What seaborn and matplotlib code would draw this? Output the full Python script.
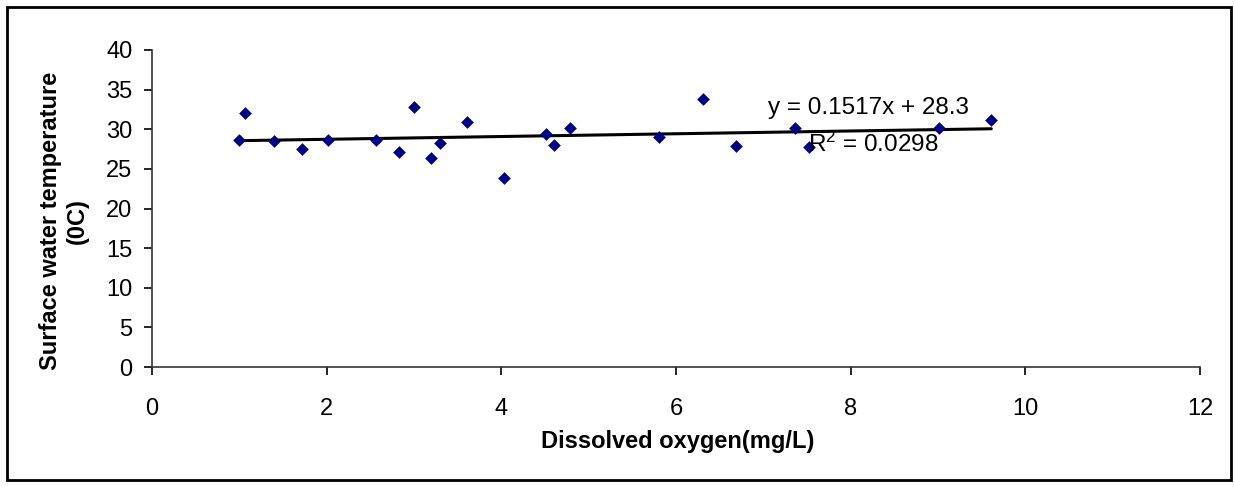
import numpy as np
import pandas as pd
import matplotlib
matplotlib.use('Agg')
import matplotlib.pyplot as plt
from matplotlib.patches import Rectangle
import seaborn as sns

# values
dissolved_oxygen = [1.00, 1.06, 1.40, 1.72, 2.01, 2.57, 2.83, 3.00, 3.19, 3.30, 3.61,
                    4.03, 4.51, 4.60, 4.79, 5.81, 6.31, 6.69, 7.36, 7.52, 9.01, 9.61]
water_temp = [28.7, 32.1, 28.5, 27.5, 28.7, 28.7, 27.1, 32.8, 26.4, 28.3, 30.9,
              23.8, 29.4, 28.0, 30.2, 29.0, 33.8, 27.9, 30.2, 27.8, 30.2, 31.2]
eq_text = 'y = 0.1517x + 28.3'
r2_text = 'R$^2$ = 0.0298'
x_ticks = [0, 2, 4, 6, 8, 10, 12]
y_ticks = [0, 5, 10, 15, 20, 25, 30, 35, 40]

df = pd.DataFrame({'do': dissolved_oxygen, 'temp': water_temp})

sns.set_style('white')
plt.rcParams['font.family'] = ['Liberation Sans', 'DejaVu Sans']
plt.rcParams['text.color'] = 'black'
plt.rcParams['axes.labelcolor'] = 'black'
plt.rcParams['mathtext.fontset'] = 'custom'
plt.rcParams['mathtext.rm'] = 'Liberation Sans'
plt.rcParams['mathtext.default'] = 'regular'

fig = plt.figure(figsize=(12.35, 4.87), dpi=100)
ax = fig.add_axes([152 / 1235, 1 - 367 / 487, 1048 / 1235, 317 / 487])

sns.regplot(data=df, x='do', y='temp', ci=None, marker='D', ax=ax,
            scatter_kws={'s': 42, 'color': '#000080', 'alpha': 1,
                         'linewidths': 0, 'zorder': 3},
            line_kws={'color': 'black', 'lw': 2.2, 'zorder': 2})

ax.set_xlim(0, 12)
ax.set_ylim(0, 40)
ax.set_xticks(x_ticks)
ax.set_yticks(y_ticks)
ax.tick_params(axis='both', direction='out', length=6, width=1.2, colors='black',
               labelsize=17, bottom=True, left=True)
ax.tick_params(axis='x', pad=16)
ax.tick_params(axis='y', pad=8)
sns.despine(ax=ax)
for side in ['left', 'bottom']:
    ax.spines[side].set_color('#333333')
    ax.spines[side].set_linewidth(1.2)

ax.set_xlabel('Dissolved oxygen(mg/L)', fontsize=17, fontweight='bold')
ax.xaxis.label.set_va('center')
ax.xaxis.set_label_coords(0.502, -0.235)
ax.set_ylabel('Surface water temperature\n(0C)', fontsize=17, fontweight='bold',
              multialignment='center')
ax.yaxis.label.set_va('center')
ax.yaxis.set_label_coords(-0.084, 0.46)

ax.text(7.05, 32.7, eq_text, fontsize=17.5, ha='left', va='center')
ax.text(7.51, 28.1, r2_text, fontsize=17.5, ha='left', va='center')

# outer chart border
fig.patches.append(Rectangle((7 / 1235, 7 / 487), 1224 / 1235, 473 / 487,
                             transform=fig.transFigure, fill=False,
                             lw=2, ec='black'))

fig.savefig('out.png', dpi=100)
